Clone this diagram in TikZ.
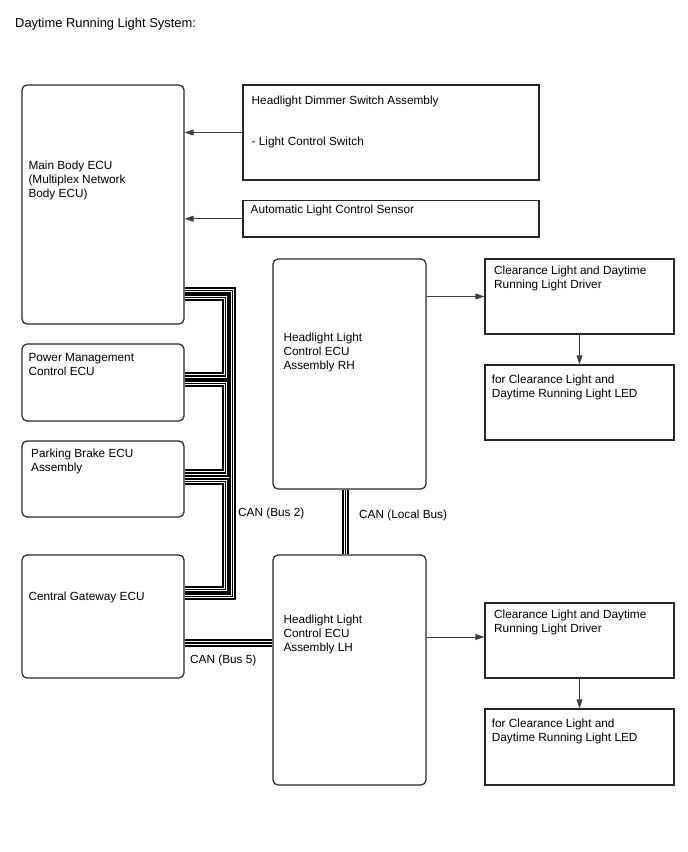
\documentclass[tikz,border=0pt]{standalone}
\usepackage{fontspec}
\setmainfont{Liberation Sans}
\usetikzlibrary{arrows.meta}
\begin{document}
\begin{tikzpicture}[x=1pt,y=-1pt,
  ecu/.style={draw=black!85, rounded corners=5pt, line width=1.2pt, inner sep=0pt},
  sqbox/.style={draw=black!85, line width=1.2pt, inner sep=0pt},
  txt/.style={anchor=base west, inner sep=0pt, align=left, font=\fontsize{11.8}{14}\selectfont},
  arr/.style={draw=black!75, line width=0.8pt, -{Triangle[length=9pt,width=6pt]}},
  bus/.style={draw=black, line width=7.4pt, line cap=butt,
    postaction={draw=white, line width=3.4pt},
    postaction={draw=black, line width=1.4pt}}]
\useasboundingbox (0,0) rectangle (688,852);

% boxes
\node[ecu, minimum width=162pt, minimum height=239pt] (main) at (103,204.5) {};
\node[sqbox, minimum width=296pt, minimum height=95pt] (dim) at (391,132.5) {};
\node[sqbox, minimum width=296pt, minimum height=36.5pt] (sen) at (391,218.75) {};
\node[ecu, minimum width=162pt, minimum height=77pt] (pm) at (103,382.5) {};
\node[ecu, minimum width=162pt, minimum height=76pt] (pb) at (103,479) {};
\node[ecu, minimum width=162pt, minimum height=123pt] (gw) at (103,616.5) {};
\node[ecu, minimum width=153pt, minimum height=230pt] (rh) at (349.5,374) {};
\node[ecu, minimum width=153pt, minimum height=230pt] (lh) at (349.5,670) {};
\node[sqbox, minimum width=189pt, minimum height=75pt] (drvR) at (579.5,296.5) {};
\node[sqbox, minimum width=189pt, minimum height=75pt] (ledR) at (579.5,402.5) {};
\node[sqbox, minimum width=189pt, minimum height=75pt] (drvL) at (579.5,640.5) {};
\node[sqbox, minimum width=189pt, minimum height=76pt] (ledL) at (579.5,747) {};

% texts (base west of a multi-line node = baseline of its last line)
\node[txt, font=\fontsize{12.9}{15}\selectfont] (title) at (15,27) {Daytime Running Light System:};
\node[txt] (tmain) at (28.3,197) {Main Body ECU\\(Multiplex Network\\Body ECU)};
\node[txt] (tdim) at (251.5,104) {Headlight Dimmer Switch Assembly};
\node[txt] (tdim2) at (251.5,145) {- Light Control Switch};
\node[txt] (tsen) at (250.5,213) {Automatic Light Control Sensor};
\node[txt] (tpm) at (28.3,375.7) {Power Management\\Control ECU};
\node[txt] (tpb) at (31,471.5) {Parking Brake ECU\\Assembly};
\node[txt] (tgw) at (28.3,600) {Central Gateway ECU};
\node[txt] (trh) at (283.3,369.7) {Headlight Light\\Control ECU\\Assembly RH};
\node[txt] (tlh) at (283.3,651.3) {Headlight Light\\Control ECU\\Assembly LH};
\node[txt] (tdrvR) at (494,288.5) {Clearance Light and Daytime\\Running Light Driver};
\node[txt] (tledR) at (491.7,397.3) {for Clearance Light and\\Daytime Running Light LED};
\node[txt] (tdrvL) at (494,632.5) {Clearance Light and Daytime\\Running Light Driver};
\node[txt] (tledL) at (491.7,741.3) {for Clearance Light and\\Daytime Running Light LED};
\node[txt] (lb2) at (238,516) {CAN (Bus 2)};
\node[txt] (llocal) at (359,518) {CAN (Local Bus)};
\node[txt] (lb5) at (190,663) {CAN (Bus 5)};

% arrows
\draw[arr] (dim.west) -- (dim.west -| main.east);
\draw[arr] (sen.west) -- (sen.west -| main.east);
\draw[arr] (drvR.west -| rh.east) -- (drvR.west);
\draw[arr] (drvR.south) -- (ledR.north);
\coordinate (lhy) at (0,637);
\draw[arr] (lh.east |- lhy) -- (drvL.west |- lhy);
\draw[arr] (drvL.south) -- (ledL.north);

% CAN bus 2
\coordinate (oa) at (232.5,290.5);
\coordinate (ob) at (232.5,596.5);
\coordinate (ia1) at (225.5,297.5);
\coordinate (ia2) at (225.5,376);
\coordinate (ib1) at (225.5,383.5);
\coordinate (ib2) at (225.5,473);
\coordinate (ic1) at (225.5,481.5);
\coordinate (ic2) at (225.5,589.5);
\draw[bus] (main.east |- oa) -- (oa) -- (ob) -- (gw.east |- ob);
\draw[bus] (main.east |- ia1) -- (ia1) -- (ia2) -- (pm.east |- ia2);
\draw[bus] (pm.east |- ib1) -- (ib1) -- (ib2) -- (pb.east |- ib2);
\draw[bus] (pb.east |- ic1) -- (ic1) -- (ic2) -- (gw.east |- ic2);

% CAN bus 5
\coordinate (b5) at (0,643);
\draw[bus] (gw.east |- b5) -- (lh.west |- b5);

% CAN local bus
\coordinate (lbx) at (345.5,0);
\draw[bus] (rh.south -| lbx) -- (lh.north -| lbx);
\end{tikzpicture}
\end{document}
